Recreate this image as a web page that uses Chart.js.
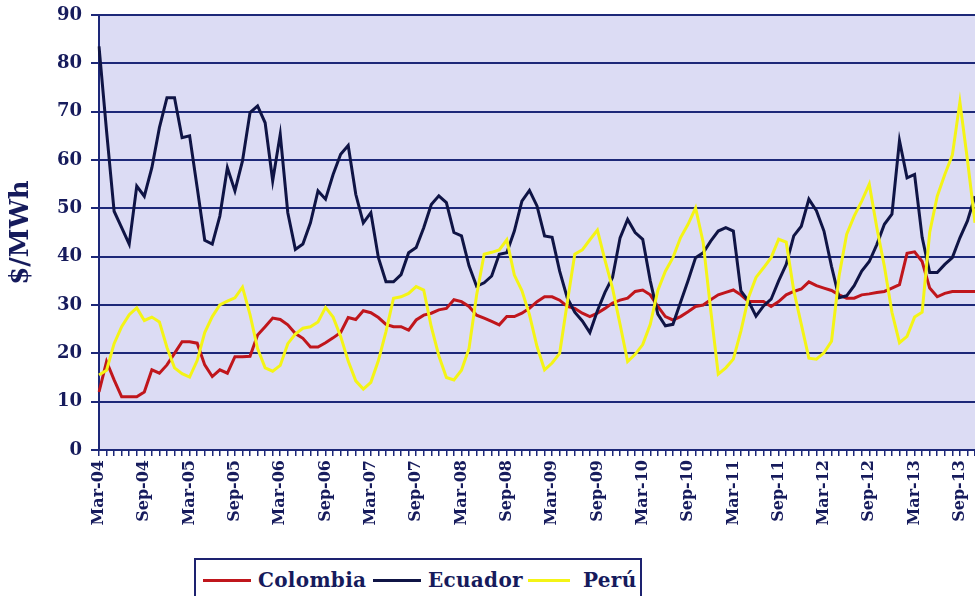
<!DOCTYPE html>
<html>
<head>
<meta charset="utf-8">
<script src="https://cdn.jsdelivr.net/npm/chart.js@4.4.1/dist/chart.umd.min.js"></script>
<style>
  html, body { margin: 0; padding: 0; background: #ffffff; overflow: hidden; }
  #wrap { position: relative; width: 975px; height: 596px; overflow: hidden; }
  #chart { position: absolute; left: 0; top: 0; }
  #legend { position: absolute; left: 194px; top: 558px; width: 444px; height: 50px;
            border: 2px solid #1d2270; background: #ffffff; }
  .sw { position: absolute; height: 3px; }
  .lt { position: absolute; font: bold 20px "DejaVu Serif", serif; color: #161b5c;
        line-height: 24px; white-space: nowrap; letter-spacing: 0.3px; }
</style>
</head>
<body>
<div id="wrap">
  <canvas id="chart" width="975" height="545"></canvas>
  <div id="legend"></div>
</div>
<script>
// Monthly months, Mar-2004 .. Nov-2013
const months = [
  'Mar-04','Apr-04','May-04','Jun-04','Jul-04','Aug-04','Sep-04','Oct-04','Nov-04','Dec-04',
  'Jan-05','Feb-05','Mar-05','Apr-05','May-05','Jun-05','Jul-05','Aug-05','Sep-05','Oct-05','Nov-05','Dec-05',
  'Jan-06','Feb-06','Mar-06','Apr-06','May-06','Jun-06','Jul-06','Aug-06','Sep-06','Oct-06','Nov-06','Dec-06',
  'Jan-07','Feb-07','Mar-07','Apr-07','May-07','Jun-07','Jul-07','Aug-07','Sep-07','Oct-07','Nov-07','Dec-07',
  'Jan-08','Feb-08','Mar-08','Apr-08','May-08','Jun-08','Jul-08','Aug-08','Sep-08','Oct-08','Nov-08','Dec-08',
  'Jan-09','Feb-09','Mar-09','Apr-09','May-09','Jun-09','Jul-09','Aug-09','Sep-09','Oct-09','Nov-09','Dec-09',
  'Jan-10','Feb-10','Mar-10','Apr-10','May-10','Jun-10','Jul-10','Aug-10','Sep-10','Oct-10','Nov-10','Dec-10',
  'Jan-11','Feb-11','Mar-11','Apr-11','May-11','Jun-11','Jul-11','Aug-11','Sep-11','Oct-11','Nov-11','Dec-11',
  'Jan-12','Feb-12','Mar-12','Apr-12','May-12','Jun-12','Jul-12','Aug-12','Sep-12','Oct-12','Nov-12','Dec-12',
  'Jan-13','Feb-13','Mar-13','Apr-13','May-13','Jun-13','Jul-13','Aug-13','Sep-13','Oct-13','Nov-13'
];

// Axis labels shown every six months
const shownLabels = ['Mar-04','Sep-04','Mar-05','Sep-05','Mar-06','Sep-06','Mar-07','Sep-07','Mar-08','Sep-08',
  'Mar-09','Sep-09','Mar-10','Sep-10','Mar-11','Sep-11','Mar-12','Sep-12','Mar-13','Sep-13'];

const yTicks = [0, 10, 20, 30, 40, 50, 60, 70, 80, 90];

// Spot prices, $/MWh
const colombia = [
  12, 18.3, 14.5, 11, 11, 11, 12, 16.6, 15.9, 17.6,
  20, 22.4, 22.4, 22.1, 17.6, 15.2, 16.6, 15.9, 19.3, 19.3, 19.4, 23.8,
  25.5, 27.3, 27, 25.9, 24.1, 23.1, 21.3, 21.3, 22.2, 23.2, 24.3, 27.4,
  27, 28.8, 28.4, 27.4, 26, 25.5, 25.5, 24.8, 26.9, 27.9, 28.3, 29,
  29.3, 31.1, 30.7, 29.7, 27.9, 27.3, 26.6, 25.9, 27.6, 27.6, 28.3, 29.3,
  30.7, 31.7, 31.7, 31, 29.7, 29.3, 28.3, 27.6, 28.3, 29.3, 30.4, 31,
  31.4, 32.8, 33.1, 32.1, 29.7, 27.6, 26.9, 27.6, 28.6, 29.7, 30, 31.1,
  32.1, 32.6, 33.1, 32.1, 30.7, 30.7, 30.7, 29.7, 30.7, 32.1, 32.8, 33.3,
  34.8, 34, 33.5, 33, 32.1, 31.4, 31.4, 32.1, 32.3, 32.6, 32.8, 33.5,
  34.2, 40.7, 41, 39, 33.5, 31.7, 32.4, 32.8, 32.8, 32.8, 32.8
];

const ecuador = [
  83.5, 66, 49.4, 46, 42.6, 54.6, 52.5, 58.4, 66.7, 72.9,
  72.9, 64.6, 65, 54.3, 43.4, 42.6, 48.4, 58.4, 53.6, 59.8, 69.8, 71.2,
  67.7, 55.7, 65.3, 49.1, 41.5, 42.6, 47, 53.6, 51.9, 57, 61.2, 63,
  52.9, 47, 49.1, 39.8, 34.8, 34.8, 36.3, 40.8, 41.9, 46, 50.8, 52.6,
  51.2, 45, 44.3, 38.1, 33.9, 34.6, 36, 40.5, 40.8, 45.3, 51.5, 53.7,
  50.5, 44.3, 44, 37, 31.5, 28.5, 26.7, 24.3, 28.8, 32.6, 35.7, 43.9,
  47.7, 45, 43.6, 35, 28.1, 25.7, 26, 30.5, 35, 39.8, 40.8, 43.2,
  45.3, 46, 45.3, 32.9, 30.8, 27.7, 29.8, 31.2, 35, 38.4, 44.3, 46.3,
  51.9, 49.5, 45.3, 38, 31.5, 31.9, 34, 37, 39, 42.5, 46.7, 48.8,
  64, 56.3, 57, 44, 36.7, 36.7, 38.4, 39.8, 43.9, 47.4, 52.5
];

const peru = [
  15.5, 16.5, 22, 25.5, 28, 29.4, 26.8, 27.5, 26.5, 21.2,
  17, 15.8, 15.1, 18.5, 24.3, 27.6, 30, 30.8, 31.5, 33.7, 28, 21,
  17, 16.3, 17.5, 22, 24, 25.2, 25.5, 26.5, 29.5, 27.5, 23.5, 18.4,
  14.3, 12.6, 14, 18.5, 24.5, 31.4, 31.7, 32.4, 33.8, 33.1, 25.5, 19.5,
  15, 14.5, 16.5, 21, 32, 40.5, 40.9, 41.4, 43.5, 36.2, 33, 28,
  21.4, 16.6, 18, 20, 30.4, 40.5, 41.4, 43.5, 45.5, 39.3, 33.5, 26,
  18.3, 19.8, 21.8, 26, 33, 37, 39.8, 43.9, 46.7, 50.1, 43, 29,
  15.7, 17, 18.8, 24.6, 31.5, 35.7, 37.7, 39.8, 43.6, 43, 33, 26,
  19, 18.8, 20.1, 22.5, 36, 44.6, 48.4, 51.5, 55, 46, 38, 28.5,
  22.2, 23.5, 27.5, 28.5, 45, 52.5, 57, 61, 72, 60, 47
];

const seriesNames = ['Colombia', 'Ecuador', 'Perú'];
const seriesColors = ['#c0161c', '#0f1445', '#f4f416'];

const NAVY = '#1d2878';
const TEXT = '#161b5c';
const FONT = '"DejaVu Serif", serif';

// Lavender plot background
const plotBackground = {
  id: 'plotBackground',
  beforeDraw(chart) {
    const { ctx, chartArea: a } = chart;
    ctx.save();
    ctx.fillStyle = '#dcdcf4';
    ctx.fillRect(a.left, a.top, a.right - a.left, a.bottom - a.top);
    ctx.restore();
  }
};

new Chart(document.getElementById('chart'), {
  type: 'line',
  data: {
    labels: months,
    datasets: [
      { label: seriesNames[0], data: colombia, borderColor: seriesColors[0], order: 2 },
      { label: seriesNames[1], data: ecuador, borderColor: seriesColors[1], order: 1 },
      { label: seriesNames[2], data: peru, borderColor: seriesColors[2], order: 0 }
    ]
  },
  options: {
    responsive: false,
    animation: false,
    devicePixelRatio: 1,
    layout: { padding: { top: 15, right: 0, bottom: 0, left: 0 } },
    elements: {
      line: { borderWidth: 3, tension: 0, fill: false },
      point: { radius: 0, hoverRadius: 0 }
    },
    plugins: { legend: { display: false }, tooltip: { enabled: false } },
    scales: {
      x: {
        offset: false,
        border: { display: true, color: NAVY, width: 2 },
        grid: { display: true, drawOnChartArea: false, drawTicks: true, tickLength: 6, color: NAVY, lineWidth: 1.5 },
        ticks: {
          autoSkip: false, minRotation: 90, maxRotation: 90, padding: 4,
          color: TEXT, font: { family: FONT, size: 16, weight: 'bold' },
          callback(v, i) { const l = months[i]; return shownLabels.includes(l) ? l : ''; }
        },
        afterFit(s) { s.height = 95; s.paddingLeft = 0; s.paddingRight = 0; }
      },
      y: {
        min: 0, max: 90,
        border: { display: true, color: NAVY, width: 2 },
        grid: { color: NAVY, lineWidth: 2, drawTicks: true, tickLength: 8 },
        afterBuildTicks(s) { s.ticks = yTicks.map(v => ({ value: v })); },
        ticks: {
          padding: 9, color: TEXT,
          font: { family: FONT, size: 18, weight: 'bold' }
        },
        title: {
          display: true, text: '$/MWh', color: TEXT,
          font: { family: FONT, size: 26, weight: 'bold' },
          padding: { top: 6, bottom: 0 }
        },
        afterFit(s) { s.width = 99; s.paddingTop = 0; s.paddingBottom = 0; }
      }
    }
  },
  plugins: [plotBackground]
});

// Legend box below the plot
const legend = document.getElementById('legend');
const swatchX = [203, 373, 528];
const textX = [258, 428, 583];
seriesNames.forEach((name, i) => {
  const sw = document.createElement('div');
  sw.className = 'sw';
  sw.style.left = (swatchX[i] - 196) + 'px';
  sw.style.width = (i === 2 ? 42 : 48) + 'px';
  sw.style.top = '19px';
  sw.style.background = seriesColors[i];
  legend.appendChild(sw);
  const t = document.createElement('div');
  t.className = 'lt';
  t.style.left = (textX[i] - 196) + 'px';
  t.style.top = '8px';
  t.textContent = name;
  legend.appendChild(t);
});
</script>
</body>
</html>
